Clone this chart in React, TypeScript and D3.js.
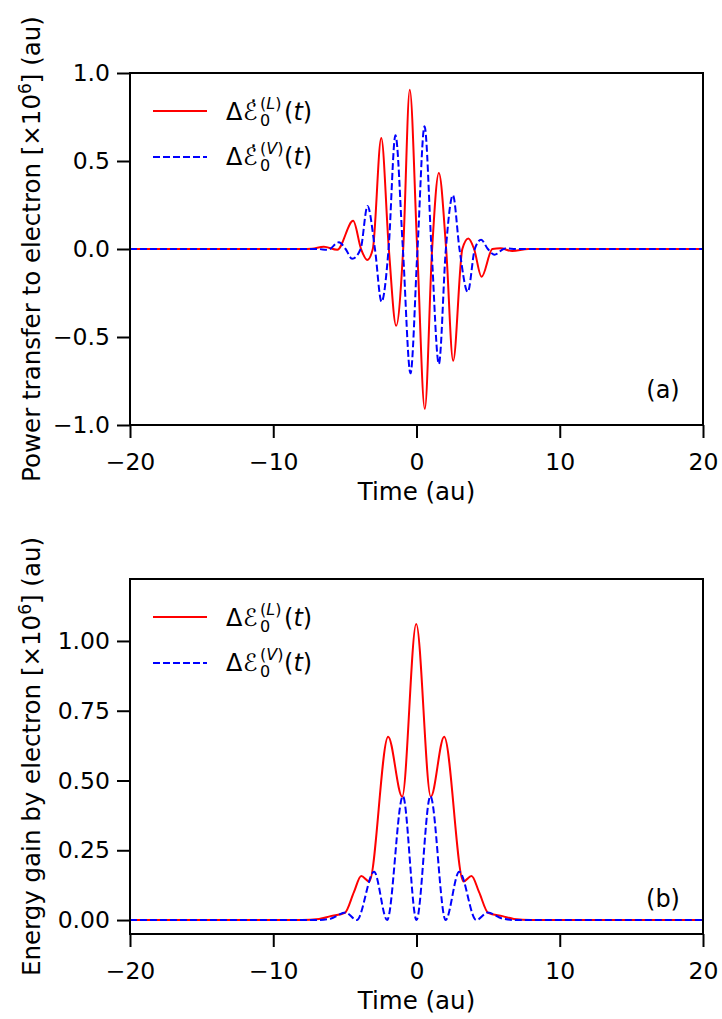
import React, { useRef, useEffect } from 'react';
import * as d3 from 'd3';

// panel (a): power transfer, [time, value] (peaks, dips, zero crossings)
const powerL: [number, number][] = [
  [-20, 0], [-8, 0], [-7.3, 0.002], [-6.47, 0.013], [-5.53, -0.004], [-4.42, 0.16],
  [-3.87, 0], [-3.44, -0.062], [-3.05, 0], [-2.46, 0.63], [-1.93, 0], [-1.42, -0.436],
  [-0.93, 0], [-0.47, 0.905], [0.05, 0], [0.58, -0.908], [1.09, 0], [1.56, 0.432],
  [2.07, 0], [2.56, -0.635], [3.2, 0], [3.62, 0.06], [4.02, 0], [4.54, -0.158],
  [5.3, 0], [5.86, 0.004], [6.68, -0.012], [7.8, 0], [20, 0],
];
const powerV: [number, number][] = [
  [-20, 0], [-8, 0], [-6.9, 0], [-6.2, -0.005], [-5.42, 0.038], [-4.95, 0], [-4.49, -0.056],
  [-3.9, 0], [-3.42, 0.244], [-2.9, 0], [-2.44, -0.3], [-1.95, 0], [-1.47, 0.646],
  [-0.95, 0], [-0.42, -0.706], [0.07, 0], [0.56, 0.697], [1.05, 0], [1.56, -0.653],
  [2.05, 0], [2.54, 0.306], [3.0, 0], [3.58, -0.244], [4.07, 0], [4.51, 0.053],
  [4.98, 0], [5.44, -0.032], [6.2, 0.003], [7, 0], [20, 0],
];

// panel (b): energy gain
const energyL: [number, number][] = [
  [-20, 0], [-8, 0], [-6.8, 0.004], [-6.0, 0.014], [-5.0, 0.026], [-4.37, 0.1],
  [-3.86, 0.158], [-3.3, 0.138], [-1.98, 0.657], [-1.0, 0.442], [-0.02, 1.061],
  [1.0, 0.442], [1.93, 0.657], [3.28, 0.138], [3.84, 0.158], [4.37, 0.1],
  [5.0, 0.026], [6.0, 0.014], [6.8, 0.004], [8, 0], [20, 0],
];
const energyV: [number, number][] = [
  [-20, 0], [-7, 0], [-6, 0.005], [-4.95, 0.027], [-4.17, 0], [-2.96, 0.173],
  [-2.05, 0], [-0.95, 0.444], [0, 0], [0.97, 0.444], [2.03, 0], [2.98, 0.173],
  [4.17, 0], [4.98, 0.027], [6, 0.005], [7, 0], [20, 0],
];

const xTicks = [-20, -10, 0, 10, 20];
const powerTicks = [-1, -0.5, 0, 0.5, 1];
const energyTicks = [0, 0.25, 0.5, 0.75, 1];

const W = 722;
const H = 1019;
const X0 = 130;
const X1 = 703;
const FONT = 'DejaVu Sans';

function legendEntry(g: any, x: number, y: number, sup: string, dotted: boolean) {
  const t = (tx: number, ty: number, s: string, size = 24, italic = false) =>
    g.append('text').attr('x', tx).attr('y', ty).attr('font-size', size)
      .attr('font-style', italic ? 'italic' : 'normal').text(s);
  t(x, y, 'Δ');
  t(x + 17, y, 'ℰ', 24, true);
  if (dotted) t(x + 24, y - 18, '.', 22);
  t(x + 34, y + 6, '0', 16);
  g.append('text').attr('x', x + 34).attr('y', y - 11).attr('font-size', 16)
    .call((s: any) => {
      s.append('tspan').text('(');
      s.append('tspan').attr('font-style', 'italic').text(sup);
      s.append('tspan').text(')');
    });
  g.append('text').attr('x', x + 58).attr('y', y).attr('font-size', 24)
    .call((s: any) => {
      s.append('tspan').text('(');
      s.append('tspan').attr('font-style', 'italic').text('t');
      s.append('tspan').text(')');
    });
}

function drawPanel(svg: any, o: any) {
  const x = d3.scaleLinear().domain([-20, 20]).range([X0, X1]);
  const y = d3.scaleLinear().domain(o.yDomain).range([o.bottom, o.top]);
  const g = svg.append('g').attr('font-family', FONT);

  const line = d3.line<[number, number]>()
    .x((d) => x(d[0]))
    .y((d) => y(d[1]))
    .curve(d3.curveMonotoneX);

  g.append('path').attr('d', line(o.red)).attr('fill', 'none')
    .attr('stroke', '#ff0000').attr('stroke-width', 2);
  g.append('path').attr('d', line(o.blue)).attr('fill', 'none')
    .attr('stroke', '#0000ff').attr('stroke-width', 2).attr('stroke-dasharray', '7,3');

  // axes
  const xAxis = d3.axisBottom(x).tickValues(xTicks).tickSizeInner(13).tickSizeOuter(0)
    .tickPadding(15).tickFormat(d3.format('d'));
  const gx = g.append('g').attr('transform', `translate(0,${o.bottom})`).call(xAxis);
  const yAxis = d3.axisLeft(y).tickValues(o.yTicks).tickSizeInner(13).tickSizeOuter(0)
    .tickPadding(7).tickFormat(d3.format(o.fmt));
  const gy = g.append('g').attr('transform', `translate(${X0},0)`).call(yAxis);
  [gx, gy].forEach((a) => {
    a.attr('font-size', 23.5).attr('font-family', FONT);
    a.select('.domain').remove();
    a.selectAll('.tick line').attr('stroke', '#000').attr('stroke-width', 2);
    a.selectAll('.tick text').attr('fill', '#000');
  });

  g.append('rect').attr('x', X0).attr('y', o.top).attr('width', X1 - X0)
    .attr('height', o.bottom - o.top).attr('fill', 'none')
    .attr('stroke', '#000').attr('stroke-width', 2);

  g.append('text').attr('x', (X0 + X1) / 2).attr('y', o.bottom + 75)
    .attr('text-anchor', 'middle').attr('font-size', 24.5).text('Time (au)');

  const yl = g.append('text')
    .attr('transform', `translate(40,${(o.top + o.bottom) / 2}) rotate(-90)`)
    .attr('text-anchor', 'middle').attr('font-size', 24.5);
  yl.append('tspan').text(o.ylabel + ' [×10');
  yl.append('tspan').attr('dy', -9).attr('font-size', 17).text('6');
  yl.append('tspan').attr('dy', 9).text('] (au)');

  g.append('text').attr('x', 663).attr('y', o.bottom - 27).attr('text-anchor', 'middle')
    .attr('font-size', 24).text(o.tag);

  // legend
  const lg = g.append('g');
  lg.append('line').attr('x1', 153).attr('x2', 207).attr('y1', o.top + 38).attr('y2', o.top + 38)
    .attr('stroke', '#ff0000').attr('stroke-width', 2);
  lg.append('line').attr('x1', 153).attr('x2', 207).attr('y1', o.top + 84).attr('y2', o.top + 84)
    .attr('stroke', '#0000ff').attr('stroke-width', 2).attr('stroke-dasharray', '7,3');
  legendEntry(lg, 226, o.top + 47, 'L', o.dotted);
  legendEntry(lg, 226, o.top + 92, 'V', o.dotted);
}

export default function App() {
  const svgRef = useRef<SVGSVGElement>(null);

  useEffect(() => {
    const svg = d3.select(svgRef.current);
    svg.selectAll('*').remove();
    drawPanel(svg, {
      top: 73, bottom: 425, yDomain: [-1, 1], yTicks: powerTicks, fmt: '.1f',
      red: powerL, blue: powerV, ylabel: 'Power transfer to electron', tag: '(a)', dotted: true,
    });
    drawPanel(svg, {
      top: 579, bottom: 934, yDomain: [-0.05, 1.222], yTicks: energyTicks, fmt: '.2f',
      red: energyL, blue: energyV, ylabel: 'Energy gain by electron', tag: '(b)', dotted: false,
    });
  }, []);

  return (
    <div style={{ position: 'absolute', left: 0, top: 0 }}>
      <svg ref={svgRef} width={W} height={H} style={{ background: '#fff', display: 'block' }} />
    </div>
  );
}
